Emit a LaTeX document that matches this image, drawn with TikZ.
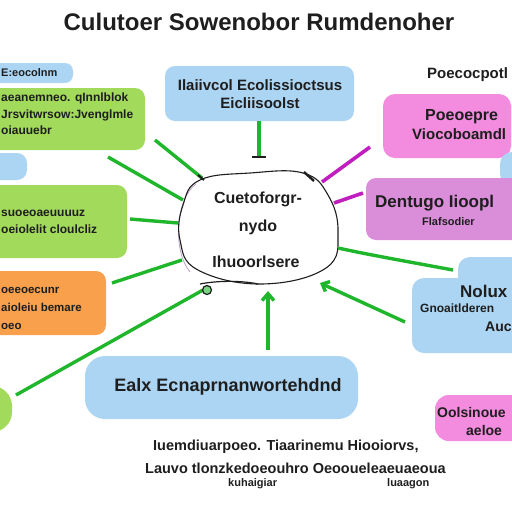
\documentclass[tikz,border=0pt]{standalone}
\usepackage{fontspec}
\setmainfont{Liberation Sans}
\usetikzlibrary{arrows.meta}
\definecolor{lblue}{RGB}{172,213,243}
\definecolor{lgreen}{RGB}{162,218,92}
\definecolor{lorange}{RGB}{248,160,76}
\definecolor{lpink}{RGB}{243,140,222}
\definecolor{lorchid}{RGB}{218,142,218}
\definecolor{lgline}{RGB}{32,182,44}
\definecolor{lmag}{RGB}{192,30,190}
\definecolor{ltxt}{RGB}{30,30,30}
\definecolor{lpurp}{RGB}{190,160,200}
\tikzset{
  box/.style={rounded corners=10pt, inner sep=0pt, draw=none},
  txt/.style={text=ltxt, inner sep=0pt},
  gline/.style={draw=lgline, line width=3.4pt},
  mline/.style={draw=lmag, line width=3.6pt},
}
\newcommand{\fs}[2]{\fontsize{#1}{#2}\selectfont\bfseries}
\begin{document}
\begin{tikzpicture}[x=1pt,y=-1pt]
\useasboundingbox (0,0) rectangle (512,512);
\clip (0,0) rectangle (512,512);
\fill[white] (0,0) rectangle (512,512);

% title
\node[txt, font=\fs{24}{28}] (title) at (259,22) {Culutoer Sowenobor Rumdenoher};

% boxes (left)
\node[box, fill=lblue, minimum width=83pt, minimum height=20pt, rounded corners=8pt] (bTL) at (31.5,73) {};
\node[box, fill=lgreen, minimum width=160pt, minimum height=62pt] (gB1) at (65,119) {};
\node[box, fill=lblue, minimum width=42pt, minimum height=27pt] (bS) at (6,166.5) {};
\node[box, fill=lgreen, minimum width=142pt, minimum height=73pt] (gB2) at (56,221.5) {};
\node[box, fill=lorange, minimum width=121pt, minimum height=64pt] (oB) at (45.5,303) {};
\node[box, fill=lgreen, minimum width=42pt, minimum height=46pt, rounded corners=20pt] (gS) at (-9,409) {};

% boxes (top, right, bottom)
\node[box, fill=lblue, minimum width=189pt, minimum height=55pt] (bTop) at (259.5,93.5) {};
\node[box, fill=lpink, minimum width=128pt, minimum height=64pt, rounded corners=12pt] (pB) at (447,126) {};
\node[box, fill=lblue, minimum width=30pt, minimum height=34pt, rounded corners=12pt] (bR) at (515,169) {};
\node[box, fill=lorchid, minimum width=159pt, minimum height=62pt] (orB) at (445.5,209) {};
\node[box, fill=lblue, minimum width=70pt, minimum height=40pt, rounded corners=12pt] (bRt) at (493,277) {};
\node[box, fill=lblue, minimum width=113pt, minimum height=75pt, rounded corners=12pt] (bRm) at (468.5,315.5) {};
\node[box, fill=lpink, minimum width=90pt, minimum height=46pt, rounded corners=14pt] (pB2) at (480,418) {};
\node[box, fill=lblue, minimum width=273pt, minimum height=63pt, rounded corners=20pt] (bBot) at (221.5,387.5) {};

% central cloud
\draw[lpurp, line width=0.8pt] (196,184) .. controls (176,198) and (172,250) .. (190,272);
\draw[ltxt, line width=1.1pt] plot[smooth cycle, tension=0.7] coordinates
  {(200,180) (250,173) (303,173) (328,195) (338,232) (326,268) (262,284) (198,270) (180,240) (183,205)};
\node[inner sep=0pt, minimum size=1pt] (cloud) at (258,228) {};
\draw[ltxt, line width=2.4pt] (304,172) -- (314,181);

% cloud text
\node[txt, font=\fs{16}{20}] (c1) at (258,199) {Cuetoforgr-};
\node[txt, font=\fs{16}{20}] (c2) at (258,227) {nydo};
\node[txt, font=\fs{16}{20}] (c3) at (256,262) {Ihuoorlsere};

% connector end points
\coordinate (a1) at (155,140); \coordinate (e1) at (202,178);
\coordinate (a2) at (108,157); \coordinate (e2) at (183,200);
\coordinate (a3) at (130,219); \coordinate (e3) at (178,223);
\coordinate (a4) at (112,283); \coordinate (e4) at (182,260);
\coordinate (a5) at (16,395);  \coordinate (e5) at (203,290);
\coordinate (a6) at (268,350); \coordinate (e6) at (268,291);
\coordinate (a7) at (259,121); \coordinate (e7) at (259,157);
\coordinate (a8) at (370,147); \coordinate (e8) at (322,182);
\coordinate (a9) at (363,193); \coordinate (e9) at (334,203);
\coordinate (a10) at (453,270); \coordinate (e10) at (338,248);
\coordinate (a11) at (405,322); \coordinate (e11) at (320,283);

% connectors
\draw[gline] (a1) -- (e1);
\draw[ltxt, line width=2pt] (198,175) -- (204,180);
\draw[gline] (a2) -- (e2);
\draw[gline] (a3) -- (e3);
\draw[gline] (a4) -- (e4);
\draw[gline] (a5) -- (e5);
\draw[ltxt, line width=1.2pt] (200,284) .. controls (220,280) and (245,281) .. (258,284);
\draw[ltxt, line width=1.2pt, fill=lgline!60] (207,290) circle (4.5pt);
\draw[gline, -{Straight Barb[length=7pt,width=12pt]}] (a6) -- (e6);
\draw[gline] (a7) -- (e7);
\draw[ltxt, line width=2pt] (252,157) -- (266,157);
\draw[mline] (a8) -- (e8);
\draw[mline] (a9) -- (e9);
\draw[gline] (a10) .. controls (410,262) and (370,255) .. (e10);
\draw[gline, -{Straight Barb[length=6pt,width=11pt]}] (a11) -- (e11);

% box texts
\node[txt, anchor=west, font=\fs{11}{13}] (tTL) at (1,73) {E:eocolnm};
\node[txt, anchor=north west, align=left, font=\fs{12}{16.5}] (tG1) at (1,93)
  {aeanemneo. qInnlblok\\Jrsvitwrsow:Jvenglmle\\oiauuebr};
\node[txt, anchor=west, align=left, font=\fs{12}{17}] (tG2) at (1,221.5)
  {suoeoaeuuuuz\\oeiolelit cloulcliz};
\node[txt, anchor=west, align=left, font=\fs{11.5}{18}] (tO) at (1,308)
  {oeeoecunr\\aioleiu bemare\\oeo};
\node[txt, align=center, font=\fs{15}{18}] (tTop) at (260,94)
  {Ilaiivcol Ecolissioctsus\\Eicliisoolst};
\node[txt, anchor=west, font=\fs{15}{16}] (tPtr) at (427,75) {Poecocpotl};
\node[txt, anchor=west, font=\fs{16}{17}] (tP1) at (425,117) {Poeoepre};
\node[txt, anchor=west, font=\fs{15}{17}] (tP2) at (412,134) {Viocoboamdl};
\node[txt, anchor=west, font=\fs{17}{20}] (tOr1) at (375,203) {Dentugo Iioopl};
\node[txt, anchor=west, font=\fs{11}{13}] (tOr2) at (422,222) {Flafsodier};
\node[txt, anchor=west, font=\fs{17}{20}] (tR1) at (460,291) {Nolux};
\node[txt, anchor=west, font=\fs{12}{14}] (tR2) at (420,308) {Gnoaitlderen};
\node[txt, anchor=west, font=\fs{14}{16}] (tR3) at (485,327) {Auc};
\node[txt, anchor=west, font=\fs{14}{16}] (tQ1) at (437,412) {Oolsinoue};
\node[txt, anchor=west, font=\fs{14}{16}] (tQ2) at (466,430) {aeloe};
\node[txt, font=\fs{18}{22}] (tB) at (228,387) {Ealx Ecnaprnanwortehdnd};

% caption
\node[txt, anchor=west, font=\fs{14.5}{15}] (cap1) at (153,447) {Iuemdiuarpoeo. Tiaarinemu Hiooiorvs,};
\node[txt, anchor=west, font=\fs{14.5}{15}] (cap2) at (145,468) {Lauvo tlonzkedoeouhro Oeooueleaeuaeoua};
\node[txt, anchor=west, font=\fs{11}{13}] (cap3) at (228,484) {kuhaigiar};
\node[txt, anchor=west, font=\fs{11}{13}] (cap4) at (387,484) {luaagon};
\end{tikzpicture}
\end{document}
